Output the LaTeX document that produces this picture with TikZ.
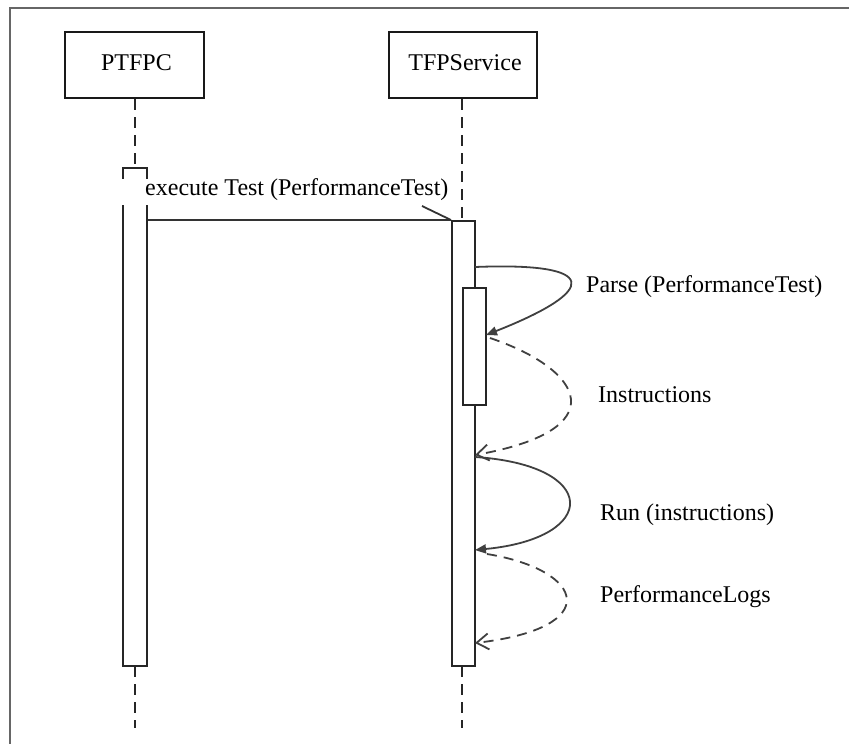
\documentclass[tikz,border=0pt]{standalone}
\usepackage{fontspec}
\setmainfont{Liberation Serif}
\usetikzlibrary{arrows.meta}
\begin{document}
\begin{tikzpicture}[x=1pt,y=-1pt,
  font=\fontsize{24}{28}\selectfont,
  actor/.style={draw=black!90,line width=2pt,minimum height=66pt,inner sep=0pt},
  bar/.style={draw=black!85,fill=white,line width=2pt,minimum width=23pt,inner sep=0pt},
  lifeline/.style={draw=black!85,line width=2pt,dash pattern=on 11pt off 7pt},
  msg/.style={draw=black!80,line width=1.8pt},
  call/.style={draw=black!75,line width=1.8pt,-{Triangle[length=11pt,width=9pt]}},
  reply/.style={draw=black!75,line width=1.8pt,dash pattern=on 10pt off 7pt,-{Straight Barb[length=12pt,width=16pt]}},
  txt/.style={anchor=base west,inner sep=0pt}]
\useasboundingbox (0,0) rectangle (849,744);

% frame (top and left edges)
\draw[black!60,line width=2.4pt] (849,8) -- (10,8) -- (10,744);

% participants
\node[actor,minimum width=139pt] (ptfpc) at (134.5,65) {};
\node[anchor=base] (ptfpcname) at (136.5,70) {PTFPC};
\node[actor,minimum width=148pt] (tfps) at (463,65) {};
\node[anchor=base] (tfpsname) at (465,70) {TFPService};

% lifelines
\coordinate (lA0) at (135,168);
\coordinate (lA1) at (135,666);
\coordinate (lAend) at (135,728);
\coordinate (lB0) at (462,221);
\coordinate (lB1) at (462,666);
\coordinate (lBend) at (462,728);
\draw[lifeline] (ptfpc.south -| lA0) -- (lA0);
\draw[lifeline] (lA1) -- (lAend);
\draw[lifeline] (tfps.south -| lB0) -- (lB0);
\draw[lifeline] (lB1) -- (lBend);

% activation bars
\node[bar,minimum width=24pt,minimum height=498pt] (actA) at (135,417) {};
\node[bar,minimum height=445pt] (actB) at (463.5,443.5) {};
\node[bar,minimum height=117pt] (actC) at (474.5,346.5) {};

% call from PTFPC to TFPService
\fill[white] (117,179) rectangle (456,205);
\node[txt] (execlbl) at (145,195) {execute Test (PerformanceTest)};
\draw[msg] (actA.east |- actB.north west) -- (actB.north west);
\draw[msg] (actB.north west) -- ++(-29,-14);

% self calls and returns
\coordinate (parseS) at (475,267);
\coordinate (parseE) at (486,335);
\coordinate (instS)  at (490,338);
\coordinate (instE)  at (475,455);
\coordinate (runS)   at (475,457);
\coordinate (runE)   at (475,550);
\coordinate (logS)   at (487,554);
\coordinate (logE)   at (475,643);

\draw[call]  (parseS) .. controls (600,262) and (600,290) .. (parseE);
\draw[reply] (instS)  .. controls (585,370) and (615,430) .. (instE);
\draw[call]  (runS)   .. controls (600,465) and (600,538) .. (runE);
\draw[reply] (logS)   .. controls (585,570) and (605,628) .. (logE);

\node[txt] (parselbl) at (586,292) {Parse (PerformanceTest)};
\node[txt] (instlbl)  at (598,402) {Instructions};
\node[txt] (runlbl)   at (600,520) {Run (instructions)};
\node[txt] (loglbl)   at (600,602) {PerformanceLogs};
\end{tikzpicture}
\end{document}
